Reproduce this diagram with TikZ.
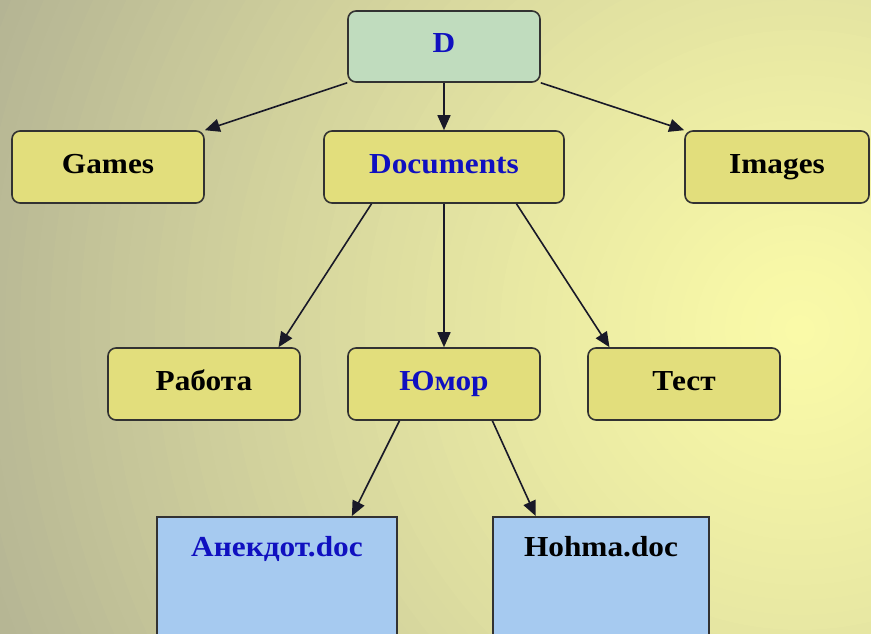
\documentclass[tikz,border=0pt]{standalone}
\usepackage{fontspec}
\setmainfont{Liberation Serif}
\newfontfamily\labfont[FakeStretch=1.08]{Liberation Serif}
\usetikzlibrary{arrows.meta,calc}
\definecolor{bgA}{RGB}{250,250,168}
\definecolor{bgF}{RGB}{180,180,148}
\definecolor{rootgreen}{RGB}{192,220,190}
\definecolor{diryellow}{RGB}{226,222,124}
\definecolor{docblue}{RGB}{166,202,240}
\definecolor{bordercol}{RGB}{50,50,50}
\definecolor{labblue}{RGB}{16,16,192}
\definecolor{arrowcol}{RGB}{25,25,40}
\tikzset{
  dirbox/.style={draw=bordercol, line width=1.6pt, rounded corners=8pt, fill=diryellow,
    minimum height=72pt, inner sep=0pt, text height=20pt, text depth=8pt,
    font=\labfont\bfseries\fontsize{29}{30}\selectfont},
  docbox/.style={draw=bordercol, line width=1.6pt, fill=docblue, anchor=north,
    inner xsep=0pt, inner ysep=0pt, text height=40pt, text depth=85pt,
    font=\labfont\bfseries\fontsize{29}{30}\selectfont},
  arr/.style={draw=arrowcol, line width=1.6pt, -{Triangle[length=15pt,width=13pt]}}
}
\begin{document}
\begin{tikzpicture}[x=1pt,y=-1pt]
\useasboundingbox (0,0) rectangle (871,634);
\clip (0,0) rectangle (871,634);
\fill[bgF] (0,0) rectangle (871,634);
\foreach \i in {58,57,...,1}{
  \pgfmathsetmacro{\p}{100*(\i/58)^1.25}
  \fill[bgF!\p!bgA] (800,330) circle (\i*15pt);
}
% nodes
\node[dirbox, fill=rootgreen, minimum width=192pt, minimum height=71pt, text=labblue] (D) at (444,46.5) {D};
\node[dirbox, minimum width=192pt] (Games) at (108,167) {Games};
\node[dirbox, minimum width=240pt, text=labblue] (Documents) at (444,167) {Documents};
\node[dirbox, minimum width=184pt] (Images) at (777,167) {Images};
\node[dirbox, minimum width=192pt] (Rabota) at (204,384) {Работа};
\node[dirbox, minimum width=192pt, text=labblue] (Umor) at (444,384) {Юмор};
\node[dirbox, minimum width=192pt] (Test) at (684,384) {Тест};
\node[docbox, minimum width=240pt, text=labblue] (Anekdot) at (277,516) {Анекдот.doc};
\node[docbox, minimum width=216pt] (Hohma) at (601,516) {Hohma.doc};
% connectors
\draw[arr] (D.south west) -- (Games.north east);
\draw[arr] (D.south) -- (Documents.north);
\draw[arr] (D.south east) -- (Images.north west);
\draw[arr] ($(Documents.south west)!0.2!(Documents.south east)$) -- ($(Rabota.north west)!0.885!(Rabota.north east)$);
\draw[arr] (Documents.south) -- (Umor.north);
\draw[arr] ($(Documents.south west)!0.8!(Documents.south east)$) -- ($(Test.north west)!0.115!(Test.north east)$);
\draw[arr] ($(Umor.south west)!0.27!(Umor.south east)$) -- ($(Anekdot.north west)!0.81!(Anekdot.north east)$);
\draw[arr] ($(Umor.south west)!0.75!(Umor.south east)$) -- ($(Hohma.north west)!0.2!(Hohma.north east)$);
\end{tikzpicture}
\end{document}
